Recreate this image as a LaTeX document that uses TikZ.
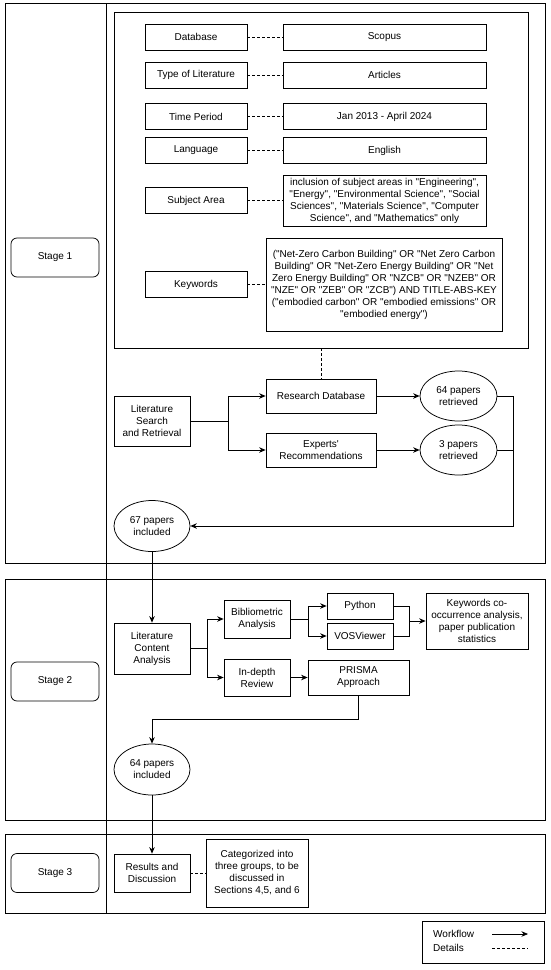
\documentclass[tikz,border=0pt]{standalone}
\usepackage{fontspec}
\setmainfont{Liberation Sans}[Ligatures=TeXOff]
\usetikzlibrary{shapes.geometric,arrows.meta}
\tikzset{
  base/.style={draw, line width=0.75pt, align=center, inner sep=1pt, font=\fontsize{10}{12}\selectfont},
  box/.style={base, rectangle, minimum width=#1},
  ell/.style={base, ellipse, minimum width=76pt, minimum height=51pt},
  stagebox/.style={base, rectangle, rounded corners=6pt, minimum width=88pt, minimum height=39pt},
  frame/.style={draw, line width=0.75pt},
  flow/.style={line width=0.75pt, -{Stealth[length=6.5pt,width=5.5pt]}},
  plain/.style={line width=0.75pt},
  det/.style={line width=0.75pt, dash pattern=on 2.5pt off 2.5pt},
  lbl/.style={font=\fontsize{10}{12}\selectfont, inner sep=0pt, anchor=west}
}
\begin{document}
\begin{tikzpicture}[x=1pt,y=-1pt]
\useasboundingbox[fill=white] (0,0) rectangle (550,970);
% stage frames
\draw[frame] (5,3) rectangle (545,563);
\draw[frame] (5,579) rectangle (545,820);
\draw[frame] (5,834) rectangle (545,913);
\draw[frame] (106,3) -- (106,913);
% stage labels
\node[stagebox] (s1) at (55,257.5) {Stage 1};
\node[stagebox] (s2) at (55,681.5) {Stage 2};
\node[stagebox] (s3) at (55,873) {Stage 3};
% inner details box
\node[draw, line width=0.75pt, minimum width=414pt, minimum height=336pt, inner sep=0pt] (inner) at (321,180) {};
% detail rows
\node[box=102pt, minimum height=26pt] (dbL) at (196,37) {Database};
\node[box=203pt, minimum height=26pt] (dbR) at (384.5,37) {Scopus};
\node[box=102pt, minimum height=26pt] (tyL) at (196,75) {Type of Literature};
\node[box=203pt, minimum height=26pt] (tyR) at (384.5,75) {Articles};
\node[box=102pt, minimum height=26pt] (tpL) at (196,116.5) {Time Period};
\node[box=203pt, minimum height=26pt] (tpR) at (384.5,116.5) {Jan 2013 - April 2024};
\node[box=102pt, minimum height=26pt] (laL) at (196,150.5) {Language};
\node[box=203pt, minimum height=26pt] (laR) at (384.5,150.5) {English};
\node[box=102pt, minimum height=26pt] (saL) at (196,200.5) {Subject Area};
\node[box=203pt, minimum height=51pt] (saR) at (384.5,200.5) {inclusion of subject areas in "Engineering",\\"Energy", "Environmental Science", "Social\\Sciences", "Materials Science", "Computer\\Science", and "Mathematics" only};
\node[box=102pt, minimum height=26pt] (kwL) at (196,284.5) {Keywords};
\node[box=236pt, minimum height=93pt] (kwR) at (384,284.5) {("Net-Zero Carbon Building" OR "Net Zero Carbon\\Building" OR "Net-Zero Energy Building" OR "Net\\Zero Energy Building" OR "NZCB" OR "NZEB" OR\\"NZE" OR "ZEB" OR "ZCB") AND TITLE-ABS-KEY\\("embodied carbon" OR "embodied emissions" OR\\"embodied energy")};
\draw[det] (dbL) -- (dbR);
\draw[det] (tyL) -- (tyR);
\draw[det] (tpL) -- (tpR);
\draw[det] (laL) -- (laR);
\draw[det] (saL) -- (saR);
\draw[det] (kwL) -- (kwR);
% stage 1 flow
\node[box=76pt, minimum height=50pt] (ls) at (152,421) {Literature\\Search\\and Retrieval};
\node[box=110pt, minimum height=34pt] (rd) at (321,396) {Research Database};
\node[box=110pt, minimum height=34pt] (er) at (321,450) {Experts'\\Recommendations};
\node[ell, minimum width=77pt, minimum height=50pt] (e64) at (458.5,396) {64 papers\\retrieved};
\node[ell, minimum width=77pt, minimum height=50pt] (e3) at (458.5,450) {3 papers\\retrieved};
\node[ell] (e67) at (152,526) {67 papers\\included};
\draw[det] (inner.south) -- (rd.north);
\coordinate (b1) at (228,421);
\draw[plain] (ls.east) -- (b1);
\draw[flow] (b1) |- (rd.west);
\draw[flow] (b1) |- (er.west);
\draw[flow] (rd) -- (e64);
\draw[flow] (er) -- (e3);
\coordinate (m1) at (513,526);
\draw[flow] (e64.east) -| (m1) -- (e67.east);
\draw[plain] (e3.east) -- (e3.east -| m1);
% stage 2 flow
\node[box=76pt, minimum height=51pt] (lca) at (152,648.5) {Literature\\Content\\Analysis};
\node[box=66pt, minimum height=38pt] (ba) at (257,619) {Bibliometric\\Analysis};
\node[box=66pt, minimum height=37pt] (ir) at (257,677.5) {In-depth\\Review};
\node[box=101pt, minimum height=35pt] (pr) at (358.5,677.5) {PRISMA\\Approach};
\node[box=66pt, minimum height=26pt] (py) at (360,606) {Python};
\node[box=66pt, minimum height=26pt] (vos) at (360,636) {VOSViewer};
\node[box=102pt, minimum height=56pt] (kws) at (477,621) {Keywords co-\\occurrence analysis,\\paper publication\\statistics};
\node[ell] (e64i) at (152,769.5) {64 papers\\included};
\draw[flow] (e67.south) -- (lca.north);
\coordinate (b2) at (207,648.5);
\draw[plain] (lca.east) -- (b2);
\draw[flow] (b2) |- (ba.west);
\draw[flow] (b2) |- (ir.west);
\draw[flow] (ir) -- (pr);
\coordinate (b3) at (308,619);
\draw[plain] (ba.east) -- (b3);
\draw[flow] (b3) |- (py.west);
\draw[flow] (b3) |- (vos.west);
\coordinate (m2) at (409,621);
\draw[plain] (py.east) -| (m2);
\draw[plain] (vos.east) -| (m2);
\draw[flow] (m2) -- (kws.west);
\coordinate (p1) at (358.5,719);
\draw[flow] (pr.south) -- (p1) -| (e64i.north);
% stage 3
\node[box=76pt, minimum height=38pt] (rdisc) at (152,873) {Results and\\Discussion};
\node[box=102pt, minimum height=68pt] (cat) at (257,873) {Categorized into\\three groups, to be\\discussed in\\Sections 4,5, and 6};
\draw[flow] (e64i.south) -- (rdisc.north);
\draw[det] (rdisc) -- (cat);
% legend
\node[draw, line width=0.75pt, minimum width=122pt, minimum height=42pt, inner sep=0pt] (leg) at (483,942) {};
\node[lbl] (lw) at (433,934) {Workflow};
\node[lbl] (ld) at (433,948) {Details};
\coordinate (wa) at (492,934);
\coordinate (wb) at (528,934);
\coordinate (da) at (492,948);
\coordinate (db) at (528,948);
\draw[flow] (wa) -- (wb);
\draw[det] (da) -- (db);
\end{tikzpicture}
\end{document}
